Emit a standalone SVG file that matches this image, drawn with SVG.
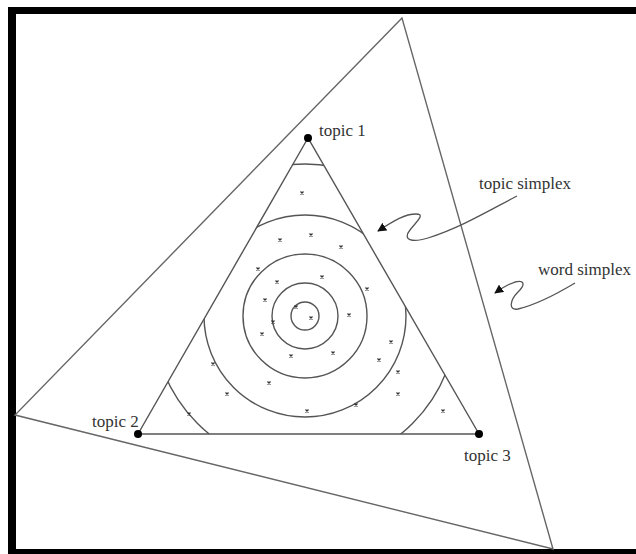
<svg xmlns="http://www.w3.org/2000/svg" width="636" height="554" viewBox="0 0 636 554">
<style>
.frame{fill:#000}
.tri{fill:none;stroke:#555;stroke-width:1.4}
.outer{fill:none;stroke:#666;stroke-width:1.4}
.ring{fill:none;stroke:#555;stroke-width:1.4}
.mk{stroke:#333;stroke-width:1.3}
.dot{fill:#000}
.lbl{font-family:"Liberation Serif","Times New Roman",serif;font-size:17px;fill:#333}
.arr{fill:none;stroke:#555;stroke-width:1.3}
</style>
<defs>
<clipPath id="triClip"><polygon points="308,138 138,434 479,434"/></clipPath>
<marker id="ah" viewBox="0 0 10 10" refX="9" refY="5" markerWidth="9" markerHeight="9" markerUnits="userSpaceOnUse" orient="auto"><path d="M0,0 L10,5 L0,10 z" fill="#111"/></marker>
<g id="x"><path class="mk" d="M-1.5,-1.5 L1.5,1.5 M-1.5,1.5 L1.5,-1.5"/></g>
</defs>
<rect width="636" height="554" fill="#fff"/>
<g id="frame">
<rect class="frame" x="8" y="7" width="628" height="7"/>
<rect class="frame" x="8" y="7" width="8" height="547"/>
<rect class="frame" x="8" y="549" width="628" height="5"/>
</g>
<g id="word-simplex-shape">
<polygon class="outer" points="402,18 15,415 553,549"/>
</g>
<g id="topic-simplex-shape">
<polygon class="tri" points="308,138 138,434 479,434"/>
<g clip-path="url(#triClip)">
<circle class="ring" cx="305" cy="316" r="14"/>
<circle class="ring" cx="305" cy="316" r="33"/>
<circle class="ring" cx="305" cy="316" r="62"/>
<circle class="ring" cx="305" cy="316" r="101"/>
<circle class="ring" cx="305" cy="316" r="152"/>
</g>
</g>
<g id="samples">
<use href="#x" x="302" y="193"/>
<use href="#x" x="280" y="240"/>
<use href="#x" x="311" y="235"/>
<use href="#x" x="341" y="247"/>
<use href="#x" x="258" y="269"/>
<use href="#x" x="277" y="282"/>
<use href="#x" x="322" y="277"/>
<use href="#x" x="367" y="289"/>
<use href="#x" x="265" y="300"/>
<use href="#x" x="296" y="307"/>
<use href="#x" x="311" y="318"/>
<use href="#x" x="273" y="322"/>
<use href="#x" x="349" y="315"/>
<use href="#x" x="262" y="334"/>
<use href="#x" x="391" y="342"/>
<use href="#x" x="291" y="356"/>
<use href="#x" x="333" y="353"/>
<use href="#x" x="379" y="360"/>
<use href="#x" x="398" y="372"/>
<use href="#x" x="269" y="383"/>
<use href="#x" x="398" y="394"/>
<use href="#x" x="356" y="405"/>
<use href="#x" x="307" y="411"/>
<use href="#x" x="213" y="364"/>
<use href="#x" x="227" y="394"/>
<use href="#x" x="189" y="414"/>
<use href="#x" x="443" y="411"/>
</g>
<g id="topic1">
<circle class="dot" cx="308" cy="138" r="4"/>
<text class="lbl" x="319" y="136">topic 1</text>
</g>
<g id="topic2">
<circle class="dot" cx="138" cy="434" r="4"/>
<text class="lbl" x="92" y="427">topic 2</text>
</g>
<g id="topic3">
<circle class="dot" cx="479" cy="434" r="4"/>
<text class="lbl" x="464" y="461">topic 3</text>
</g>
<g id="topic-simplex-label">
<text class="lbl" x="479" y="189">topic simplex</text>
</g>
<g id="word-simplex-label">
<text class="lbl" x="538" y="275">word simplex</text>
</g>
<g id="connectors">
<path class="arr" marker-end="url(#ah)" d="M517,196 C490,210 460,228 428,238 C412,243 402,240 410,230 C416,222 426,214 416,214 C405,214 395,220 378,231"/>
<path class="arr" marker-end="url(#ah)" d="M575,283 C560,292 535,305 518,309 C508,311 510,300 518,292 C526,284 524,280 515,282 C508,284 502,288 495,293"/>
</g>
</svg>
